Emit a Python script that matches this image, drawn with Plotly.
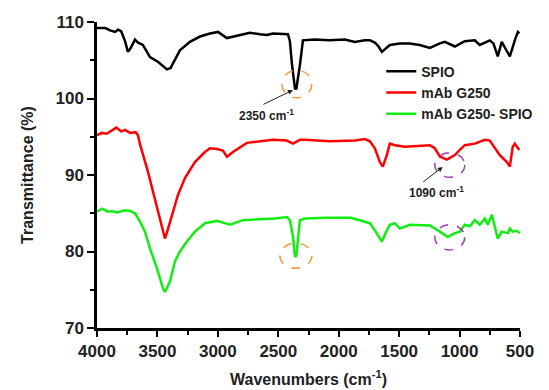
import plotly.graph_objects as go

# ---------------- data ----------------
spio_wn = [4000, 3930, 3892, 3851, 3826, 3800, 3768, 3744, 3725, 3686, 3660, 3620, 3562, 3496, 3421, 3390,
           3371, 3314, 3231, 3148, 3065, 2999, 2925, 2817, 2735, 2652, 2594, 2545, 2462, 2420, 2404, 2387,
           2362, 2350, 2321, 2296, 2200, 2073, 1950, 1866, 1784, 1742, 1701, 1670, 1643, 1620, 1577, 1494,
           1412, 1330, 1246, 1163, 1122, 1039, 957, 874, 833, 750, 720, 684, 651, 620, 584, 543, 518, 505]
spio_t = [109.2, 109.2, 108.9, 108.7, 109.0, 108.8, 107.5, 106.1, 106.5, 107.7, 107.3, 107.0, 105.4, 104.8, 103.8, 104.0,
          104.6, 106.3, 107.4, 108.1, 108.5, 108.7, 107.9, 108.3, 108.6, 108.4, 108.3, 108.5, 108.4, 108.4, 107.5, 104.5,
          101.3, 101.3, 104.4, 107.6, 107.7, 107.6, 107.7, 107.4, 107.6, 107.6, 107.3, 106.8, 106.1, 106.4, 107.0, 107.2,
          107.2, 107.0, 106.6, 107.2, 107.4, 106.8, 107.5, 107.6, 107.0, 107.6, 107.2, 105.5, 107.4, 106.5, 105.5, 107.6, 108.7, 108.5]

mab_wn = [4000, 3959, 3920, 3876, 3840, 3800, 3768, 3727, 3680, 3661, 3644, 3578, 3504, 3438, 3421, 3380,
          3330, 3272, 3190, 3107, 3065, 3008, 2958, 2925, 2875, 2760, 2652, 2545, 2430, 2379, 2321, 2280,
          2073, 1866, 1784, 1742, 1701, 1660, 1635, 1602, 1577, 1536, 1453, 1370, 1246, 1205, 1163, 1106,
          1039, 998, 957, 874, 791, 750, 709, 667, 609, 584, 560, 543, 518, 505]
mab_t = [95.2, 95.5, 95.4, 95.9, 96.2, 95.7, 95.9, 95.5, 95.6, 95.2, 94.0, 90.4, 85.7, 81.7, 82.5, 84.8,
         87.4, 89.6, 91.7, 93.0, 93.5, 93.4, 93.2, 92.4, 93.0, 94.2, 94.4, 94.6, 94.5, 94.1, 94.6, 94.6,
         94.4, 94.5, 94.7, 94.4, 93.5, 91.7, 91.1, 92.6, 94.1, 93.9, 93.7, 93.8, 93.9, 93.5, 92.4, 92.0,
         92.6, 93.3, 93.9, 94.1, 94.6, 94.5, 93.5, 92.6, 91.7, 91.1, 93.7, 94.1, 93.5, 93.3]

conj_wn = [4000, 3959, 3909, 3876, 3835, 3768, 3727, 3686, 3644, 3603, 3562, 3504, 3454, 3438, 3396, 3355,
           3314, 3256, 3190, 3107, 3008, 2900, 2793, 2594, 2528, 2429, 2404, 2379, 2362, 2350, 2321, 2280,
           2100, 1900, 1784, 1742, 1690, 1643, 1610, 1577, 1536, 1494, 1412, 1246, 1163, 1097, 1039, 998,
           957, 915, 874, 833, 791, 767, 733, 717, 700, 684, 651, 601, 584, 560, 527, 502]
conj_t = [85.2, 85.6, 85.2, 85.3, 85.1, 85.4, 85.3, 85.0, 83.9, 82.6, 80.4, 77.8, 75.2, 74.7, 76.1, 78.7,
          80.0, 81.3, 82.6, 83.7, 84.0, 83.5, 84.1, 84.3, 84.3, 84.5, 84.1, 82.0, 79.3, 79.5, 84.1, 84.3,
          84.4, 84.4, 83.9, 83.7, 82.5, 81.3, 82.5, 83.5, 83.7, 83.0, 83.5, 83.4, 82.6, 81.9, 82.4, 82.6,
          83.5, 83.3, 84.1, 83.5, 84.3, 83.5, 84.8, 83.8, 82.4, 81.7, 82.6, 82.4, 83.0, 82.6, 82.7, 82.4]

series_names = ["SPIO", "mAb G250", "mAb G250- SPIO"]
series_colors = ["#000000", "#ff0000", "#11ee11"]

x_ticks = [4000, 3500, 3000, 2500, 2000, 1500, 1000, 500]
y_ticks = [70, 80, 90, 100, 110]

# annotation positions (data coords)
circle_boxes = [  # x0, x1, y0, y1, color
    (2470, 2222, 100.1, 103.7, "#f39a3c"),
    (2487, 2222, 77.8, 81.1, "#f39a3c"),
    (1205, 957, 89.7, 92.9, "#a040b0"),
    (1205, 957, 80.2, 83.5, "#a040b0"),
]
# ---------------------------------------

FONT = "Liberation Sans, Arial, sans-serif"

fig = go.Figure()
for wn, t, name, col in zip([spio_wn, mab_wn, conj_wn], [spio_t, mab_t, conj_t], series_names, series_colors):
    fig.add_trace(go.Scatter(x=wn, y=t, mode="lines", name="<b>%s</b>" % name,
                             line=dict(color=col, width=2.5)))

for x0, x1, y0, y1, col in circle_boxes:
    fig.add_shape(type="circle", xref="x", yref="y", x0=x0, x1=x1, y0=y0, y1=y1,
                  line=dict(color=col, width=1.5, dash="dash"))

# arrows
fig.add_annotation(x=2379, y=101.1, xref="x", yref="y", text="", showarrow=True,
                   ax=-31, ay=15, arrowhead=2, arrowsize=1, arrowwidth=1, arrowcolor="#222")
fig.add_annotation(x=2594, y=97.8, xref="x", yref="y", text="<b>2350 cm<sup>-1</sup></b>",
                   showarrow=False, font=dict(family=FONT, size=12, color="#222"))
fig.add_annotation(x=1139, y=91.05, xref="x", yref="y", text="", showarrow=True,
                   ax=-21, ay=16, arrowhead=2, arrowsize=1, arrowwidth=1, arrowcolor="#222")
fig.add_annotation(x=1188, y=87.8, xref="x", yref="y", text="<b>1090 cm<sup>-1</sup></b>",
                   showarrow=False, font=dict(family=FONT, size=12, color="#222"))

# the page body adds an 8px offset; the figure is sized so the plot lands where the reference has it
fig.update_layout(
    width=541, height=382,
    margin=dict(l=89, r=29, t=14, b=62, autoexpand=False),
    paper_bgcolor="white", plot_bgcolor="white",
    font=dict(family=FONT, color="#222"),
    showlegend=True,
    legend=dict(x=0.672, y=0.89, xanchor="left", yanchor="top", bgcolor="rgba(0,0,0,0)",
                font=dict(family=FONT, size=14, color="#222"), tracegroupgap=0,
                itemwidth=30),
    xaxis=dict(range=[4000, 500], tickvals=x_ticks, ticktext=["<b>%d</b>" % v for v in x_ticks],
               automargin=False,
               showgrid=False, zeroline=False, showline=True, linecolor="black", linewidth=2.5,
               ticks="outside", ticklen=6, tickwidth=2, tickcolor="black",
               tickfont=dict(family=FONT, size=17, color="#222"),
               minor=dict(ticks="outside", ticklen=4, tickwidth=2, tickcolor="black", dtick=250, tick0=500),
               title=dict(text="<b>Wavenumbers (cm<sup>-1</sup>)</b>", font=dict(family=FONT, size=16, color="#222"),
                          standoff=14)),
    yaxis=dict(range=[70, 110], tickvals=y_ticks, ticktext=["<b>%d</b>" % v for v in y_ticks],
               automargin=False,
               showgrid=False, zeroline=False, showline=True, linecolor="black", linewidth=2.5,
               ticks="outside", ticklen=7, tickwidth=2, tickcolor="black",
               tickfont=dict(family=FONT, size=17, color="#222"),
               minor=dict(ticks="outside", ticklen=4, tickwidth=2, tickcolor="black", dtick=5, tick0=70),
               title=dict(text="<b>Transmittance (%)</b>", font=dict(family=FONT, size=16, color="#222"),
                          standoff=18)),
)

fig.write_html("out.html")
